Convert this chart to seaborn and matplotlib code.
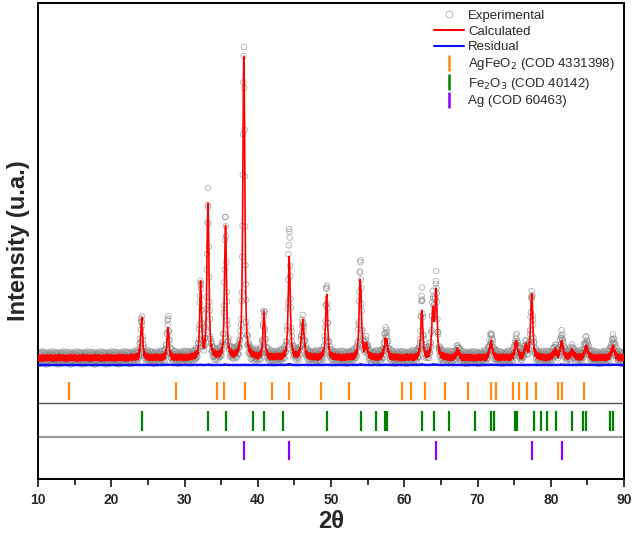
import numpy as np
import pandas as pd
import matplotlib
matplotlib.use("Agg")
import matplotlib.pyplot as plt
from matplotlib.lines import Line2D
import seaborn as sns

# ---------------- data ----------------
peak_pos = [24.15, 27.75, 32.2, 33.2, 35.6, 38.1, 40.85, 44.3, 46.15, 49.4,
            54.0, 54.8, 57.5, 62.4, 63.9, 64.35, 67.3, 71.85, 75.3, 76.6,
            77.4, 80.6, 81.5, 82.9, 84.85, 88.5]
calc_height = [380, 290, 720, 1530, 1320, 3050, 440, 990, 350, 630,
               790, 120, 190, 470, 450, 660, 70, 140, 150, 100,
               620, 60, 150, 60, 100, 100]
obs_height = [400, 390, 760, 1620, 1420, 3080, 460, 1280, 370, 700,
              950, 130, 260, 650, 560, 760, 80, 220, 190, 110,
              650, 70, 220, 70, 170, 180]
peak_fwhm = [0.32, 0.32, 0.3, 0.32, 0.32, 0.32, 0.32, 0.34, 0.45, 0.34,
             0.36, 0.4, 0.5, 0.34, 0.34, 0.34, 0.45, 0.5, 0.45, 0.45,
             0.36, 0.55, 0.45, 0.55, 0.55, 0.55]
background = 500.0
noise_pattern = [0.3, -0.7, 0.9, -0.2, 0.5, -0.9, 0.1, 0.8, -0.4, -0.6, 0.7,
                 0.2, -1.0, 0.4, -0.3, 0.6, -0.8, 0.0, 0.9, -0.5, 0.3, -0.1,
                 0.7, -0.9, 0.5, -0.2, 0.8, -0.6, 0.2, -0.4, 1.0, -0.7, 0.1,
                 0.6, -0.3, -0.8, 0.4, 0.9, -0.5, 0.0, -0.2]

agfeo2_ticks = [14.3, 28.8, 34.4, 35.4, 38.3, 42.0, 44.2, 48.6, 52.5, 59.65,
                60.9, 62.9, 65.6, 68.75, 71.85, 72.5, 74.9, 75.6, 76.8, 78.0,
                81.0, 81.6, 84.5]
fe2o3_ticks = [24.15, 33.2, 35.6, 39.3, 40.85, 43.5, 49.45, 54.1, 56.15, 57.4,
               57.6, 62.4, 64.0, 66.05, 69.6, 71.9, 72.25, 75.15, 75.45, 77.7,
               78.7, 79.45, 80.65, 82.9, 84.45, 84.85, 88.15, 88.5]
ag_ticks = [38.1, 44.3, 64.4, 77.4, 81.5]

legend_labels = ["Experimental", "Calculated", "Residual",
                 "AgFeO$_2$ (COD 4331398)", "Fe$_2$O$_3$ (COD 40142)",
                 "Ag (COD 60463)"]
xtick_vals = [10, 20, 30, 40, 50, 60, 70, 80, 90]

# ---------------- build pattern ----------------
two_theta = np.arange(10.0, 90.0001, 0.04)


def pattern(heights):
    prof = np.zeros_like(two_theta)
    for p, h, w in zip(peak_pos, heights, peak_fwhm):
        g = np.exp(-4 * np.log(2) * ((two_theta - p) / w) ** 2)
        l = 1.0 / (1.0 + 4 * ((two_theta - p) / w) ** 2)
        prof += h * (0.4 * g + 0.6 * l)
    return prof


prof_calc = pattern(calc_height)
prof_obs = pattern(obs_height)
nz = np.resize(np.array(noise_pattern), two_theta.size)
nz2 = np.roll(nz, 17)
calc = background + prof_calc + 35 * nz
obs = background + prof_obs + 65 * nz2
resid = background - 70 + 0.03 * (obs - calc)

df = pd.DataFrame({"2theta": two_theta, "obs": obs, "calc": calc, "resid": resid})

# ---------------- plot ----------------
sns.set_style("ticks")
plt.rcParams["font.family"] = ["Liberation Sans", "DejaVu Sans"]

fig = plt.figure(figsize=(6.32, 5.39), dpi=100)
ax = fig.add_axes([38 / 632, 60 / 539, (624 - 38) / 632, (479 - 3) / 539])

sns.scatterplot(data=df, x="2theta", y="obs", ax=ax, s=16, marker="o",
                facecolor="none", edgecolor="#8a8a8a", linewidth=0.5,
                alpha=0.8, zorder=2, legend=False)
sns.lineplot(data=df, x="2theta", y="calc", ax=ax, color="red", lw=1.2,
             zorder=3, legend=False)
sns.lineplot(data=df, x="2theta", y="resid", ax=ax, color="#1010ff", lw=1.6,
             zorder=3, legend=False)

B = background
ax.vlines(agfeo2_ticks, B - 420, B - 240, color="#ff8a10", lw=1.6, zorder=3)
ax.axhline(B - 450, color="#555555", lw=1.0, zorder=1)
ax.vlines(fe2o3_ticks, B - 730, B - 530, color="#008000", lw=1.6, zorder=3)
ax.axhline(B - 790, color="#999999", lw=1.6, zorder=1)
ax.vlines(ag_ticks, B - 1020, B - 830, color="#8a00ff", lw=1.6, zorder=3)

ax.set_xlim(10, 90)
ax.set_ylim(B - 1210, B + 3550)
ax.set_yticks([])
ax.set_xticks(xtick_vals)
ax.set_xticks(np.arange(15, 90, 10), minor=True)
ax.set_xticklabels([str(v) for v in xtick_vals], fontweight="bold", fontsize=10)
ax.tick_params(axis="x", which="major", direction="out", length=6, width=1.3, pad=4)
ax.tick_params(axis="x", which="minor", direction="out", length=4, width=1.3)
for sp in ax.spines.values():
    sp.set_visible(True)
    sp.set_linewidth(1.4)
    sp.set_color("black")

ax.set_xlabel("2θ", fontsize=17, fontweight="bold", labelpad=2)
ax.set_ylabel("Intensity (u.a.)", fontsize=17, fontweight="bold", labelpad=6)

handles = [
    Line2D([], [], marker="o", ls="none", markerfacecolor="none",
           markeredgecolor="#aaaaaa", markeredgewidth=0.6, markersize=5),
    Line2D([], [], color="red", lw=1.5),
    Line2D([], [], color="#1010ff", lw=1.5),
    Line2D([], [], marker="|", ls="none", color="#ff8a10", markersize=11, markeredgewidth=1.8),
    Line2D([], [], marker="|", ls="none", color="#008000", markersize=11, markeredgewidth=1.8),
    Line2D([], [], marker="|", ls="none", color="#8a00ff", markersize=11, markeredgewidth=1.8),
]
ax.legend(handles, legend_labels, loc="upper right", bbox_to_anchor=(1.0, 1.005),
          frameon=False, fontsize=9.5, handlelength=2.3, handletextpad=0.3,
          labelspacing=0.25, borderaxespad=0.3)

fig.savefig("out.png", dpi=100)
